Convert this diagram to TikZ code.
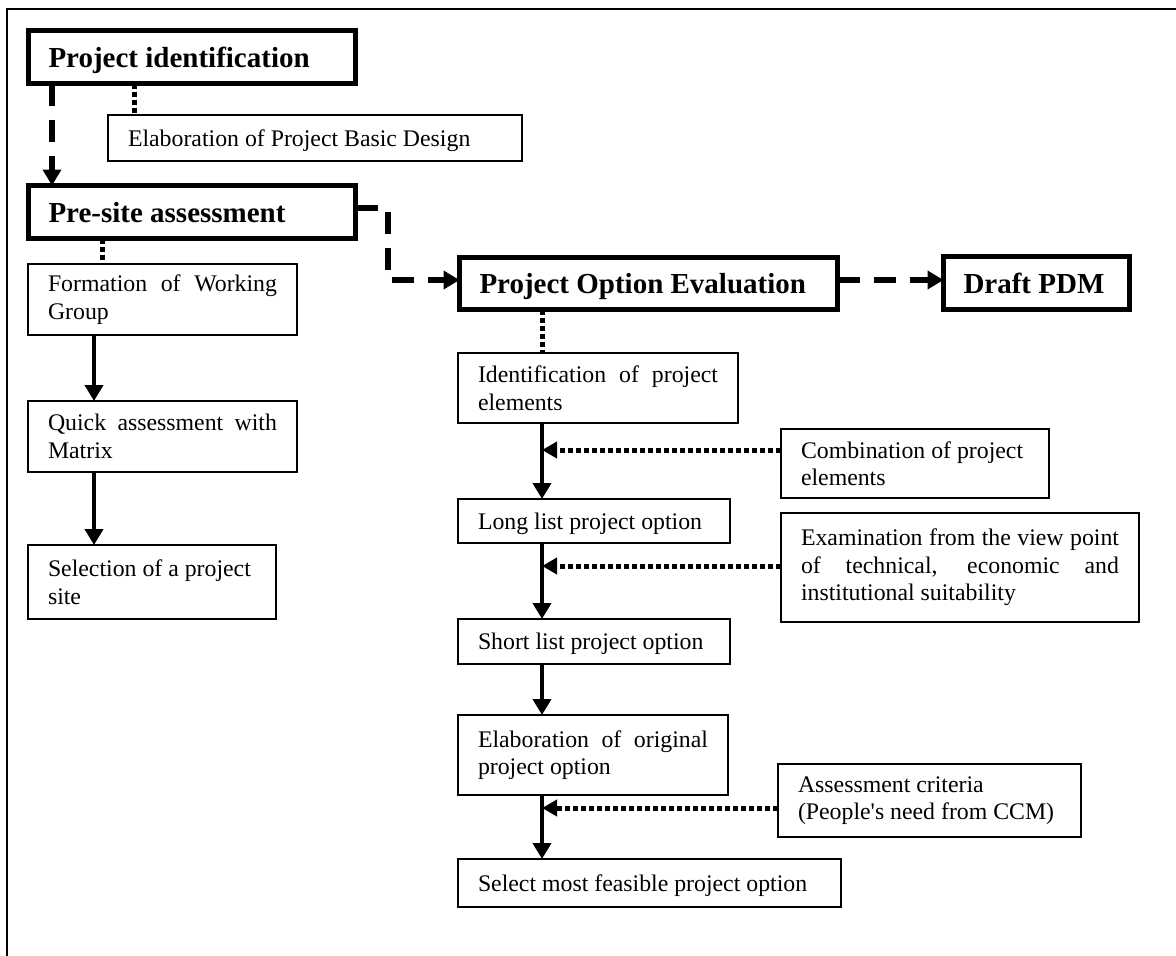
\documentclass[tikz,border=0pt]{standalone}
\usepackage{fontspec}
\setmainfont{Liberation Serif}
\usetikzlibrary{arrows.meta}
% word spacing as in the body font, stretchable for justified lines
\newcommand\wordspace{\spaceskip=.25em plus .6em minus .05em\relax\xspaceskip=0pt\relax}
\newcommand\bodysize{\fontsize{23.8}{27.5}\selectfont\wordspace}
\newcommand\headsize{\fontsize{29}{33}\selectfont\bfseries\wordspace}
% a line stretched to the full text width (justified line)
\newcommand\fullline[1]{\makebox[\hsize][s]{\wordspace#1}}

\begin{document}
\begin{tikzpicture}[x=1pt,y=-1pt,
  box/.style={draw, anchor=north west, outer sep=0pt, inner xsep=20pt, inner ysep=0pt, execute at begin node=\wordspace},
  note/.style={box, line width=2pt, font=\bodysize},
  head/.style={box, line width=5pt, font=\headsize, text depth=0pt},
  oneline/.style={text depth=0pt},
  flow/.style={line width=4pt, -{Triangle[width=18pt,length=16pt]}},
  dashflow/.style={line width=6pt, dash pattern=on 22pt off 14pt, -{Triangle[width=18pt,length=16pt]}},
  dotline/.style={line width=5pt, dash pattern=on 5.5pt off 2.5pt},
  dotflow/.style={dotline, -{Triangle[width=16pt,length=15pt]}}]

\useasboundingbox (0,0) rectangle (1176,956);

% page frame
\draw[line width=2pt] (7,956) -- (7,9) -- (1176,9);

% main stages
\node[head, minimum width=327pt, minimum height=53pt, text width=287pt] (pid) at (28.5,30.5) {Project identification};
\node[head, minimum width=327pt, minimum height=53pt, text width=287pt] (pre) at (28.5,185.5) {Pre-site assessment};
\node[head, minimum width=378pt, minimum height=52pt, text width=338pt] (poe) at (459.5,257.5) {Project Option Evaluation};
\node[head, minimum width=186pt, minimum height=53pt, text width=146pt] (pdm) at (943.5,256.5) {Draft PDM};

% sub-steps
\node[note, oneline, minimum width=414pt, minimum height=46pt, text width=374pt] (epbd) at (108,115) {Elaboration of Project Basic Design};

\node[note, minimum width=269pt, minimum height=71pt, text width=229pt] (form) at (28,264) {\fullline{Formation of Working}\\Group};
\node[note, minimum width=269pt, minimum height=71pt, text width=229pt] (quick) at (28,401) {\fullline{Quick assessment with}\\Matrix};
\node[note, minimum width=248pt, minimum height=74pt, text width=208pt] (sel) at (28,545) {\mbox{Selection of a project}\\site};

\node[note, minimum width=280pt, minimum height=70pt, text width=240pt] (ident) at (458,353) {\fullline{Identification of project}\\elements};
\node[note, minimum width=268pt, minimum height=69pt, text width=228pt] (comb) at (781,429) {\mbox{Combination of project}\\elements};
\node[note, oneline, minimum width=272pt, minimum height=44pt, text width=232pt] (long) at (458,499) {\mbox{Long list project option}};
\node[note, minimum width=358pt, minimum height=109pt, text width=318pt] (exam) at (781,513) {\fullline{Examination from the view point}\\\fullline{of technical, economic and}\\institutional suitability};
\node[note, oneline, minimum width=272pt, minimum height=45pt, text width=232pt] (short) at (458,619) {\mbox{Short list project option}};
\node[note, minimum width=270pt, minimum height=80pt, text width=230pt] (eorig) at (458,715) {\fullline{Elaboration of original}\\project option};
\node[note, minimum width=303pt, minimum height=73pt, text width=263pt] (assess) at (778,764) {Assessment criteria\\\mbox{(People\textquotesingle s need from CCM)}};
\node[note, oneline, minimum width=383pt, minimum height=48pt, text width=343pt] (select) at (458,859) {\mbox{Select most feasible project option}};

% connector guide positions
\coordinate (xa) at (52,0);
\coordinate (xb) at (134,0);
\coordinate (xc) at (102,0);
\coordinate (xd) at (94,0);
\coordinate (xs) at (542,0);
\coordinate (turn) at (388,208);
\coordinate (bend) at (388,280);
\coordinate (j1) at (542,450);
\coordinate (j2) at (542,566);
\coordinate (j3) at (542,808);

% connectors
\draw[dashflow] (pid.south -| xa) -- (pre.north -| xa);
\draw[dotline] (pid.south -| xb) -- (epbd.north -| xb);
\draw[dotline] (pre.south -| xc) -- (form.north -| xc);
\draw[dashflow] (pre.east |- turn) -- (turn) -- (bend) -- (bend -| poe.west);
\draw[dashflow] (poe.east |- bend) -- (pdm.west |- bend);

\draw[flow] (form.south -| xd) -- (quick.north -| xd);
\draw[flow] (quick.south -| xd) -- (sel.north -| xd);

\draw[dotline] (poe.south -| xs) -- (ident.north -| xs);
\draw[flow] (ident.south -| xs) -- (long.north -| xs);
\draw[flow] (long.south -| xs) -- (short.north -| xs);
\draw[flow] (short.south -| xs) -- (eorig.north -| xs);
\draw[flow] (eorig.south -| xs) -- (select.north -| xs);

\draw[dotflow] (comb.west |- j1) -- (j1);
\draw[dotflow] (exam.west |- j2) -- (j2);
\draw[dotflow] (assess.west |- j3) -- (j3);
\end{tikzpicture}
\end{document}
